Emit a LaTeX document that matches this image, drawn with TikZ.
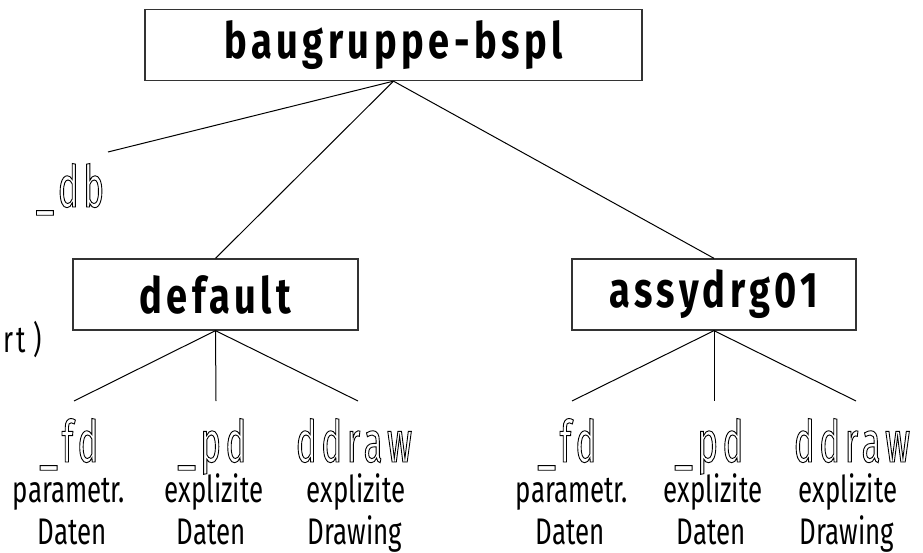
\documentclass[tikz,border=0pt]{standalone}
\usepackage{fontspec}
\newfontfamily\boxfont{Fira Sans}[FakeStretch=0.76,LetterSpace=9]
\newfontfamily\outfont{Fira Sans}[FakeStretch=0.6,LetterSpace=8]
\newfontfamily\subfont{Fira Sans}[FakeStretch=0.7]
\newcommand\outlinetext[1]{\special{pdf:literal direct 1 Tr 0.9 w}#1\special{pdf:literal direct 0 Tr}}
\tikzset{
  boxnode/.style={draw=black!80, line width=1.3pt, inner sep=0pt, minimum height=71pt,
    font=\boxfont\bfseries\fontsize{50}{50}\selectfont},
  conn/.style={draw=black, line width=1pt},
  outlabel/.style={inner sep=0pt, anchor=base, font=\outfont\fontsize{58}{58}\selectfont},
  sublabel/.style={inner sep=0pt, anchor=base, font=\subfont\fontsize{37}{37}\selectfont},
}
\begin{document}
\begin{tikzpicture}[x=1pt,y=-1pt]
\useasboundingbox (0,0) rectangle (923,553);
\clip (0,0) rectangle (923,553);
% boxes
\node[boxnode, minimum width=497pt] (top) at (393.5,45) {baugruppe-bspl};
\node[boxnode, minimum width=285pt] (def) at (215.5,294.5) {default};
\node[boxnode, minimum width=284pt] (asm) at (714,294.5) {assydrg01};
% db branch
\coordinate (dbend) at (108,152);
\node[outlabel] (db) at (70,207) {\outlinetext{\_db}};
\node[sublabel, anchor=base east] (rt) at (42,352) {r\hspace{3pt}t\hspace{8pt})};
% connectors top
\draw[conn] (top.south) -- (dbend);
\draw[conn] (top.south) -- (def.north);
\draw[conn] (top.south) -- (asm.north);
% child ends
\coordinate (d1) at (74,401);
\coordinate (d2) at (216,401);
\coordinate (d3) at (358,401);
\coordinate (a1) at (572,401);
\coordinate (a2) at (714,401);
\coordinate (a3) at (856,401);
\foreach \c in {d1,d2,d3} \draw[conn] (def.south) -- (\c);
\foreach \c in {a1,a2,a3} \draw[conn] (asm.south) -- (\c);
% child labels
\node[outlabel] (fd1) at (69,462) {\outlinetext{\_fd}};
\node[outlabel] (pd1) at (212,462) {\outlinetext{\_pd}};
\node[outlabel] (dd1) at (354,462) {\outlinetext{ddraw}};
\node[outlabel] (fd2) at (567,462) {\outlinetext{\_fd}};
\node[outlabel] (pd2) at (709,462) {\outlinetext{\_pd}};
\node[outlabel] (dd2) at (852,462) {\outlinetext{ddraw}};
% sub labels
\node[sublabel] (s11) at (69,502) {parametr.};
\node[sublabel] (s12) at (72,544) {Daten};
\node[sublabel] (s21) at (214,502) {explizite};
\node[sublabel] (s22) at (211,544) {Daten};
\node[sublabel] (s31) at (356,502) {explizite};
\node[sublabel] (s32) at (355,544) {Drawing};
\node[sublabel] (t11) at (572,502) {parametr.};
\node[sublabel] (t12) at (570,544) {Daten};
\node[sublabel] (t21) at (713,502) {explizite};
\node[sublabel] (t22) at (711,544) {Daten};
\node[sublabel] (t31) at (848,502) {explizite};
\node[sublabel] (t32) at (847,544) {Drawing};
\end{tikzpicture}
\end{document}
